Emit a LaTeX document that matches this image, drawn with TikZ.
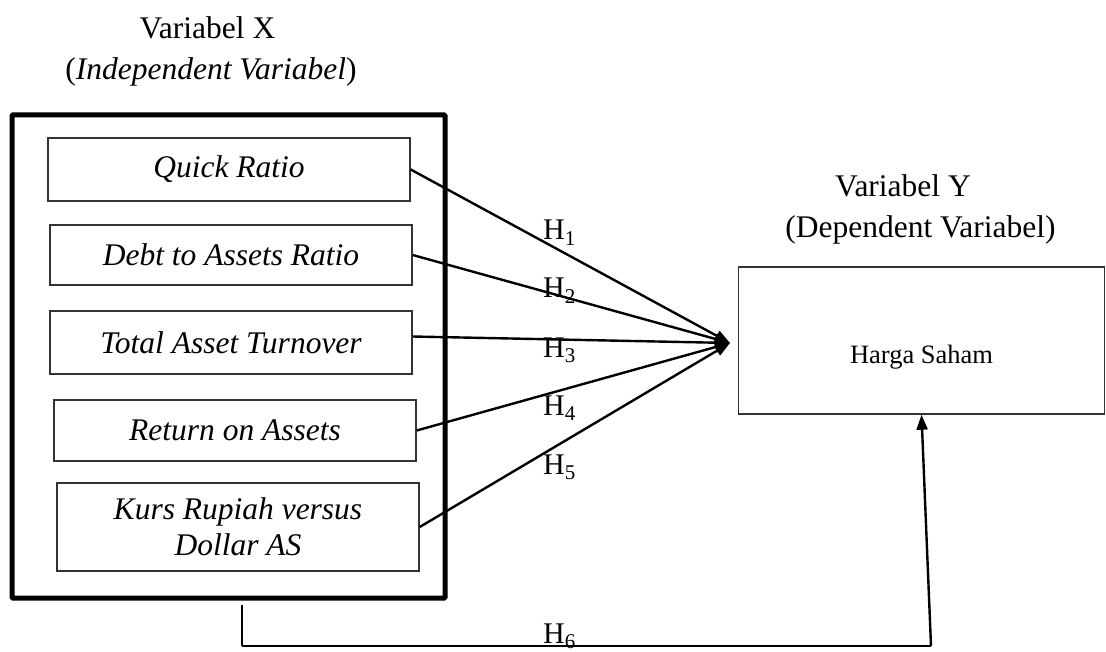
\documentclass[tikz,border=0pt]{standalone}
\usepackage{fontspec}
\setmainfont{Liberation Serif}
\usetikzlibrary{arrows.meta,calc}
\begin{document}
\begin{tikzpicture}[x=1pt,y=-1pt,
  txt/.style={font=\fontsize{31.5}{36}\selectfont},
  varbox/.style={draw=black!80,line width=1.4pt,rectangle,inner sep=0pt,minimum width=362pt,align=center,font=\fontsize{31.5}{36}\selectfont\itshape},
  outerbox/.style={draw=black,line width=5pt,rectangle,inner sep=0pt,rounded corners=1pt},
  ybox/.style={draw=black!80,line width=1.4pt,rectangle,inner sep=0pt,font=\fontsize{26.5}{30}\selectfont},
  arr/.style={line width=2.4pt,-{Triangle[length=15pt,width=11pt]}},
  hlab/.style={anchor=base west,inner sep=0pt,font=\fontsize{30}{34}\selectfont},
  thinline/.style={line width=1.6pt},
  midline/.style={line width=2pt}]
\useasboundingbox (0,0) rectangle (1106,652);

% titles
\node[txt,anchor=base,inner sep=0pt] (tx1) at (207.5,39) {Variabel X};
\node[txt,anchor=base,inner sep=0pt] (tx2) at (211,80) {(\textit{Independent Variabel})};
\node[txt,anchor=base,inner sep=0pt] (ty1) at (903,197) {Variabel Y};
\node[txt,anchor=base,inner sep=0pt] (ty2) at (920.5,238) {(Dependent Variabel)};

% outer box
\node[outerbox,minimum width=433pt,minimum height=483pt] (X) at (228.5,356.5) {};

% variable boxes
\node[varbox,minimum height=63pt] (q1) at (229,169.5) {Quick Ratio};
\node[varbox,minimum height=60pt] (q2) at (231,255) {Debt to Assets Ratio};
\node[varbox,minimum height=63pt] (q3) at (231,342.5) {Total Asset Turnover};
\node[varbox,minimum height=61pt] (q4) at (235,430.5) {Return on Assets};
\node[varbox,minimum height=88pt] (q5) at (238,527) {Kurs Rupiah versus\\Dollar AS};

% dependent box
\node[ybox,minimum width=366pt,minimum height=147pt,text height=45pt,text depth=0pt] (Y) at (921.5,340.5) {Harga Saham};

% converging arrows
\coordinate (tip) at (730,343);
\draw[arr] (q1.east) -- (tip);
\draw[arr] (q2.east) -- (tip);
\draw[arr] ([yshift=6pt]q3.east) -- (tip);
\draw[arr] (q4.east) -- (tip);
\draw[arr] (q5.east) -- (tip);

% hypothesis labels
\node[hlab] (h1) at (543,240) {H\textsubscript{1}};
\node[hlab] (h2) at (543,298) {H\textsubscript{2}};
\node[hlab] (h3) at (543,357) {H\textsubscript{3}};
\node[hlab] (h4) at (543,415) {H\textsubscript{4}};
\node[hlab] (h5) at (543,474) {H\textsubscript{5}};
\node[hlab] (h6) at (543,643) {H\textsubscript{6}};

% bottom connector
\coordinate (c1) at (242,646);
\coordinate (c2) at (931,646);
\draw[thinline] ([yshift=-4pt]X.south -| c1) -- (c1);
\draw[midline] (c1) -- (c2);
\draw[arr] (c2) -- (Y.south);
\end{tikzpicture}
\end{document}
